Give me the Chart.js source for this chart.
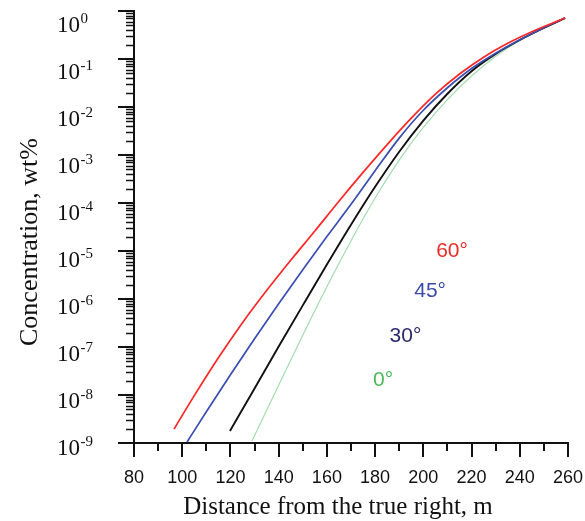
<!DOCTYPE html>
<html>
<head>
<meta charset="utf-8">
<script src="https://cdn.jsdelivr.net/npm/chart.js@4/dist/chart.umd.min.js"></script>
<style>
html, body { margin: 0; padding: 0; background: #fff; }
#wrap { width: 585px; height: 521px; }
</style>
</head>
<body>
<div id="wrap"><canvas id="c" width="585" height="521"></canvas></div>
<script>
// distance (m) and concentration (wt%)
var dist60 = [96.6, 105, 115, 125, 135, 145, 155, 165, 175, 185, 195, 205, 215, 225, 235, 245, 258.8];
var conc60 = [1.95e-9, 9.7e-9, 5.98e-8, 3.21e-7, 1.50e-6, 6.41e-6, 2.61e-5, 1.09e-4, 4.34e-4,
              1.65e-3, 5.85e-3, 1.85e-2, 4.86e-2, 0.109, 0.212, 0.369, 0.713];

var dist45 = [102, 110, 120, 130, 140, 150, 160, 170, 180, 190, 200, 210, 220, 230, 240, 250, 258.8];
var conc45 = [1.05e-9, 4.49e-9, 2.64e-8, 1.49e-7, 7.98e-7, 4.09e-6, 2.0e-5, 9.38e-5, 4.70e-4,
              2.25e-3, 8.55e-3, 2.52e-2, 6.34e-2, 0.132, 0.252, 0.449, 0.713];

var dist30 = [119.8, 130, 140, 150, 160, 170, 180, 190, 200, 210, 220, 230, 240, 250, 258.8];
var conc30 = [1.78e-9, 1.37e-8, 1.02e-7, 7.36e-7, 5.21e-6, 3.52e-5, 2.17e-4, 1.17e-3,
              5.21e-3, 1.89e-2, 5.58e-2, 0.128, 0.249, 0.444, 0.713];

var dist0 = [128.9, 140, 150, 160, 170, 180, 190, 200, 210, 220, 230, 240, 250, 258.8];
var conc0 = [1.10e-9, 1.60e-8, 1.76e-7, 1.80e-6, 1.64e-5, 1.27e-4, 7.85e-4, 3.76e-3,
             1.43e-2, 4.42e-2, 0.114, 0.243, 0.442, 0.713];

var seriesNames = ['60°', '45°', '30°', '0°'];
var labelDist = [211.9, 202.8, 192.6, 183.3];
var labelConc = [1.0e-5, 1.44e-6, 1.66e-7, 2.0e-8];

var xTicks = [80, 100, 120, 140, 160, 180, 200, 220, 240, 260];
var yExponents = [0, -1, -2, -3, -4, -5, -6, -7, -8, -9];

var lineColors = ['#ff2626', '#3a4db2', '#111111', '#a3dcae'];
var labelColors = ['#ee2b2b', '#3b4aa8', '#2a2a6e', '#4db85a'];
var widths = [1.7, 1.7, 1.9, 1.2];

function pts(xs, ys) {
  return xs.map(function(x, i) { return {x: x, y: ys[i]}; });
}
var allDist = [dist60, dist45, dist30, dist0];
var allConc = [conc60, conc45, conc30, conc0];

var datasets = [];
for (var i = 0; i < 4; i++) {
  datasets.push({
    label: seriesNames[i],
    data: pts(allDist[i], allConc[i]),
    borderColor: lineColors[i],
    borderWidth: widths[i],
    pointRadius: 0,
    fill: false,
    cubicInterpolationMode: 'monotone'
  });
}

var axesPlugin = {
  id: 'axesPlugin',
  afterDraw: function(chart) {
    var ctx = chart.ctx;
    var xs = chart.scales.x, ys = chart.scales.y;
    var a = chart.chartArea;
    ctx.save();
    ctx.strokeStyle = '#111';
    ctx.fillStyle = '#111';
    ctx.lineWidth = 2;
    // axis lines
    ctx.beginPath();
    ctx.moveTo(a.left, a.top - 1);
    ctx.lineTo(a.left, a.bottom);
    ctx.lineTo(a.right + 1, a.bottom);
    ctx.stroke();

    // x ticks
    for (var v = 80; v <= 260; v += 10) {
      var px = Math.round(xs.getPixelForValue(v));
      var len = (v % 20 === 0) ? 14 : 8;
      ctx.beginPath();
      ctx.moveTo(px, a.bottom);
      ctx.lineTo(px, a.bottom + len);
      ctx.stroke();
    }
    ctx.font = '18px "Liberation Sans", Arial, sans-serif';
    ctx.textAlign = 'center';
    ctx.textBaseline = 'alphabetic';
    xTicks.forEach(function(t) {
      ctx.fillText(String(t), xs.getPixelForValue(t), a.bottom + 40);
    });

    // y ticks
    yExponents.forEach(function(e, idx) {
      var py = Math.round(ys.getPixelForValue(Math.pow(10, e)));
      ctx.lineWidth = 2;
      ctx.beginPath();
      ctx.moveTo(a.left, py);
      ctx.lineTo(a.left - 16, py);
      ctx.stroke();
      if (e < 0) {
        ctx.lineWidth = 1.5;
        for (var k = 2; k <= 9; k++) {
          var my = Math.round(ys.getPixelForValue(k * Math.pow(10, e))) + 0.5;
          ctx.beginPath();
          ctx.moveTo(a.left, my);
          ctx.lineTo(a.left - 8, my);
          ctx.stroke();
        }
      }
      // label 10^e
      var off = 13 - idx * 1.0;
      ctx.textAlign = 'left';
      ctx.font = '23px "Liberation Serif", "Times New Roman", serif';
      ctx.fillText('10', 57, py + off + 8);
      var w = ctx.measureText('10').width;
      ctx.font = '15px "Liberation Serif", "Times New Roman", serif';
      ctx.fillText(e === 0 ? '0' : '-' + Math.abs(e), 57 + w + 0.5, py + off - 1);
    });

    // axis titles
    ctx.font = '25px "Liberation Serif", "Times New Roman", serif';
    ctx.textAlign = 'center';
    ctx.fillText('Distance from the true right, m', 338, 514);
    ctx.save();
    ctx.translate(37, 242);
    ctx.rotate(-Math.PI / 2);
    ctx.font = '26px "Liberation Serif", "Times New Roman", serif';
    ctx.fillText('Concentration, wt%', 0, 0);
    ctx.restore();

    // curve labels
    ctx.font = '21px "Liberation Sans", Arial, sans-serif';
    ctx.textBaseline = 'middle';
    for (var j = 0; j < 4; j++) {
      ctx.fillStyle = labelColors[j];
      ctx.fillText(seriesNames[j], xs.getPixelForValue(labelDist[j]), ys.getPixelForValue(labelConc[j]));
    }
    ctx.restore();
  }
};

new Chart(document.getElementById('c'), {
  type: 'line',
  data: { datasets: datasets },
  options: {
    responsive: false,
    animation: false,
    layout: { padding: { top: 11, right: 17, left: 0, bottom: 0 } },
    plugins: { legend: { display: false }, tooltip: { enabled: false } },
    scales: {
      x: {
        type: 'linear', min: 80, max: 260,
        grid: { display: false }, border: { display: false },
        ticks: { display: false },
        afterFit: function(s) { s.height = 78; }
      },
      y: {
        type: 'logarithmic', min: 1e-9, max: 1,
        grid: { display: false }, border: { display: false },
        ticks: { display: false },
        afterFit: function(s) { s.width = 134; }
      }
    }
  },
  plugins: [axesPlugin]
});
</script>
</body>
</html>
